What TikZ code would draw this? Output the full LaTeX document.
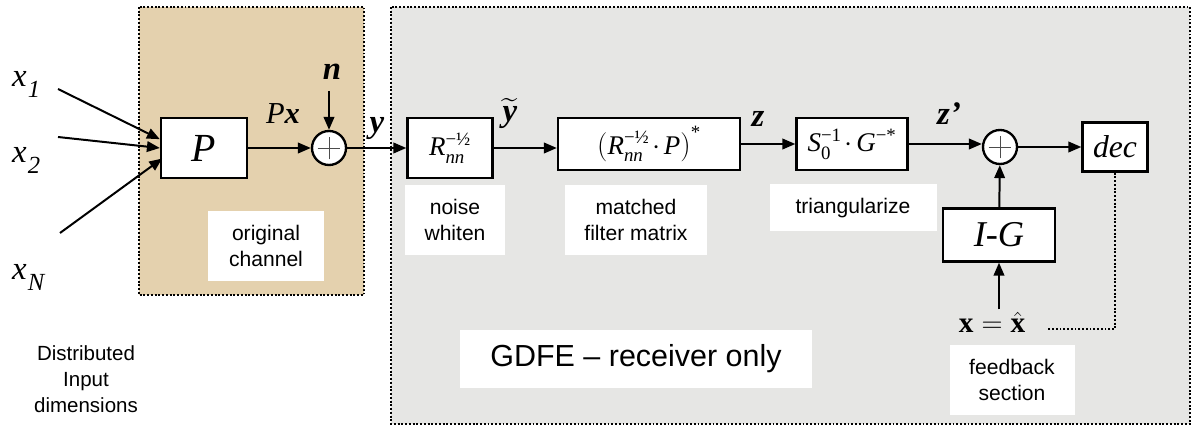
\documentclass[tikz,border=0pt]{standalone}
\usepackage{amsmath}
\usepackage{fontspec}
\setmainfont{Liberation Serif}
\setsansfont{Liberation Sans}
\usetikzlibrary{arrows.meta}
\definecolor{tanbg}{RGB}{228,209,174}
\definecolor{graybg}{RGB}{230,230,228}
\newcommand\xin[2]{\textit{x}\kern1pt\raisebox{-9pt}{\fontsize{21}{21}\selectfont\textit{#1}}}
\begin{document}
\begin{tikzpicture}[x=0.03cm,y=-0.03cm,
  blk/.style={draw, line width=2pt, fill=white, inner sep=0pt},
  sumnode/.style={circle, draw, line width=2pt, fill=white, minimum size=1.02cm, inner sep=0pt,
    path picture={\draw[line width=0.6pt, black!70]
      ([xshift=-0.34cm]path picture bounding box.center) -- ([xshift=0.34cm]path picture bounding box.center)
      ([yshift=-0.34cm]path picture bounding box.center) -- ([yshift=0.34cm]path picture bounding box.center);}},
  arr/.style={line width=1.7pt, -{Triangle[length=11pt,width=9pt]}},
  lbl/.style={fill=white, font=\sffamily\fontsize{18}{21.5}\selectfont, align=center, inner sep=0pt},
  region/.style={line width=1.8pt, dash pattern=on 1.6pt off 1.6pt},
  fb/.style={line width=1.8pt, dash pattern=on 1.6pt off 1.6pt},
  sym/.style={inner sep=0pt, font=\fontsize{28}{30}\selectfont},
  boxmath/.style={font=\fontsize{23}{26}\selectfont}
]
\useasboundingbox (0,0) rectangle (1193,427);
% regions
\fill[white] (0,0) rectangle (1193,427);
\draw[region, fill=tanbg] (139,7) rectangle (364,295);
\draw[region, fill=graybg] (391,7) rectangle (1190,424);

% label boxes
\node[lbl, minimum width=3.45cm, minimum height=2.1cm] (lorig) at (266,246) {original\\channel};
\node[lbl, minimum width=3.0cm, minimum height=2.1cm] (lnoise) at (455,220) {noise\\whiten};
\node[lbl, minimum width=4.26cm, minimum height=2.1cm] (lmf) at (636,220) {matched\\filter matrix};
\node[lbl, minimum width=5.01cm, minimum height=1.41cm] (ltri) at (853,208) {triangularize};
\node[lbl, minimum width=3.75cm, minimum height=2.1cm] (lfb) at (1012,380) {feedback\\section};
\node[lbl, minimum width=10.56cm, minimum height=1.74cm, font=\sffamily\fontsize{26}{30}\selectfont] (lgdfe) at (636,359) {GDFE -- receiver only};
\node[align=center, inner sep=0pt, font=\sffamily\fontsize{17.5}{22}\selectfont] (ldist) at (86,379) {Distributed\\Input\\dimensions};

% blocks
\node[blk, minimum width=2.58cm, minimum height=1.8cm, font=\fontsize{34}{36}\selectfont] (P) at (204,148) {\textit{P}};
\node[sumnode] (s1) at (329,148) {};
\node[blk, minimum width=2.55cm, minimum height=1.8cm, boxmath] (R) at (450,148) {$\textit{R}_{\textit{nn}}^{\text{−½}}$};
\node[blk, minimum width=5.46cm, minimum height=1.56cm, boxmath] (M) at (649,144) {$\left(\textit{R}_{\textit{nn}}^{\text{−½}}\mkern-2mu\cdot\mkern-2mu \textit{P}\right)^{\text{*}}$};
\node[blk, minimum width=3.33cm, minimum height=1.56cm, boxmath] (S) at (852,144) {$\textit{S}_{\text{0}}^{\text{−1}}\mkern-2mu\cdot\mkern-2mu \textit{G}^{\text{−*}}$};
\node[sumnode] (s2) at (1000,147) {};
\node[blk, minimum width=1.95cm, minimum height=1.47cm, font=\fontsize{27}{30}\selectfont] (dec) at (1115,147) {\textit{dec}};
\node[blk, minimum width=3.36cm, minimum height=1.59cm, font=\fontsize{31}{34}\selectfont] (IG) at (999,235) {\textit{I-G}};

% symbol labels
\node[sym, anchor=base west] (x1) at (12,87) {\xin{1}{}};
\node[sym, anchor=base west] (x2) at (12,163) {\xin{2}{}};
\node[sym, anchor=base west] (xN) at (12,280) {\xin{N}{}};
\node[sym, anchor=base] (n) at (332,80) {\textbf{\textit{n}}};
\node[sym, anchor=base, font=\fontsize{26}{28}\selectfont] (Px) at (283,124) {\textit{P}\textbf{\textit{x}}};
\node[sym, anchor=base] (y) at (377,133) {\textbf{\textit{y}}};
\node[sym, anchor=base] (yt) at (510,122) {$\widetilde{\textbf{\textit{y}}}$};
\node[sym, anchor=base] (z) at (758,127) {\textbf{\textit{z}}};
\node[sym, anchor=base west] (zp) at (937,125) {\textbf{\textit{z’}}};
\node[anchor=base, inner sep=2pt, font=\fontsize{25}{28}\selectfont] (xx) at (992,333) {$\textbf{x}=\hat{\textbf{x}}$};

% free ends
\coordinate (a1) at (58,89);
\coordinate (a2) at (58,137);
\coordinate (aN) at (60,233);
\coordinate (fbend) at (1048,329);

% connectors
\draw[arr] (a1) -- ([yshift=7.5pt]P.west);
\draw[arr] (a2) -- (P.west);
\draw[arr] (aN) -- ([xshift=2pt,yshift=-9pt]P.west);
\draw[arr] (P) -- (s1);
\draw[arr, shorten <=9pt] (n.south -| s1.north) -- (s1.north);
\draw[arr] (s1) -- (R);
\draw[arr] (R.east) -- (R.east -| M.west);
\draw[arr] (M.east) -- (M.east -| S.west);
\draw[arr] (S.east) -- (S.east -| s2.west);
\draw[arr] (s2) -- (dec);
\draw[arr] (IG) -- (s2);
\draw[arr] (xx.north -| IG.south) -- (IG.south);
\draw[fb] (dec.south) |- (fbend);
\end{tikzpicture}
\end{document}
